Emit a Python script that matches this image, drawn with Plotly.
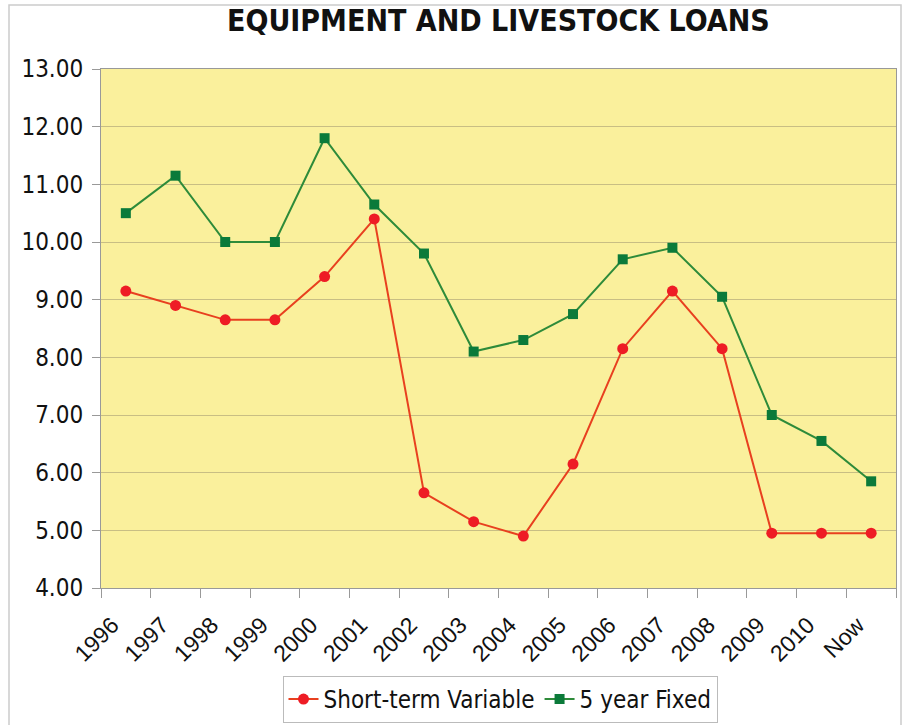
import plotly.graph_objects as go

categories = ["1996", "1997", "1998", "1999", "2000", "2001", "2002", "2003",
              "2004", "2005", "2006", "2007", "2008", "2009", "2010", "Now"]
short_term_variable = [9.15, 8.9, 8.65, 8.65, 9.4, 10.4, 5.65, 5.15,
                       4.9, 6.15, 8.15, 9.15, 8.15, 4.95, 4.95, 4.95]
five_year_fixed = [10.5, 11.15, 10.0, 10.0, 11.8, 10.65, 9.8, 8.1,
                   8.3, 8.75, 9.7, 9.9, 9.05, 7.0, 6.55, 5.85]
y_ticks = [4, 5, 6, 7, 8, 9, 10, 11, 12, 13]
title_text = "EQUIPMENT AND LIVESTOCK LOANS"

COND = "DejaVu Sans Condensed, Liberation Sans, Arial, sans-serif"

fig = go.Figure()
fig.add_trace(go.Scatter(
    x=categories, y=short_term_variable, name="Short-term Variable",
    mode="lines+markers",
    line=dict(color="#E8401F", width=2),
    marker=dict(symbol="circle", size=11, color="#EE1C25"),
))
fig.add_trace(go.Scatter(
    x=categories, y=five_year_fixed, name="5 year Fixed",
    mode="lines+markers",
    line=dict(color="#2E8B3A", width=2),
    marker=dict(symbol="square", size=10, color="#0B7A3A"),
))

L, R, T, B = 101, 10, 69, 137
W, H = 906, 725
pw = W - L - R
ph = H - T - B

fig.update_layout(
    width=W, height=H,
    margin=dict(l=L, r=R, t=T, b=B, autoexpand=False),
    paper_bgcolor="white",
    plot_bgcolor="#FAF09C",
    font=dict(family="Liberation Sans, Arial, sans-serif", color="#111111"),
    showlegend=True,
    legend=dict(
        orientation="h", x=(500 - L) / pw, xanchor="center",
        y=-(676 - (T + ph)) / ph, yanchor="top",
        font=dict(size=24, family=COND),
        bordercolor="#BBBBBB", borderwidth=1,
        bgcolor="white",
        itemwidth=30,
        tracegroupgap=0,
    ),
    xaxis=dict(
        type="category",
        automargin=False,
        tickangle=-45,
        tickmode="array",
        tickvals=categories,
        ticktext=[c + "\u00a0\u00a0\u00a0" for c in categories],
        tickfont=dict(size=23, family="Liberation Sans, Arial"),
        ticks="outside", tickson="boundaries", ticklen=9, tickcolor="#999999",
        ticklabelstandoff=0,
        showgrid=False,
        showline=True, linecolor="#999999", linewidth=1, mirror=True,
        range=[-0.5, len(categories) - 0.5],
    ),
    yaxis=dict(
        automargin=False,
        range=[4, 13],
        tickvals=y_ticks,
        tickformat=".2f",
        tickfont=dict(size=24, family=COND),
        ticks="outside", ticklen=8, tickcolor="#999999",
        ticklabelstandoff=4,
        showgrid=True, gridcolor="#C8BE84", gridwidth=1,
        showline=True, linecolor="#999999", linewidth=1, mirror=True,
        zeroline=False,
    ),
    annotations=[dict(
        text="<b>" + title_text + "</b>",
        xref="paper", yref="paper",
        x=(498 - L) / pw, xanchor="center",
        y=1 + (T - 1) / ph, yanchor="top",
        showarrow=False,
        font=dict(size=30, family=COND, color="#111111"),
    )],
    shapes=[dict(
        type="rect", xref="paper", yref="paper", layer="below",
        x0=(9 - L) / pw, x1=(901 - L) / pw,
        y0=-(H + 10 - T - ph) / ph, y1=1 + (T - 5) / ph,
        line=dict(color="#CCCCCC", width=1.5),
    )],
)

fig.write_html("out.html")
